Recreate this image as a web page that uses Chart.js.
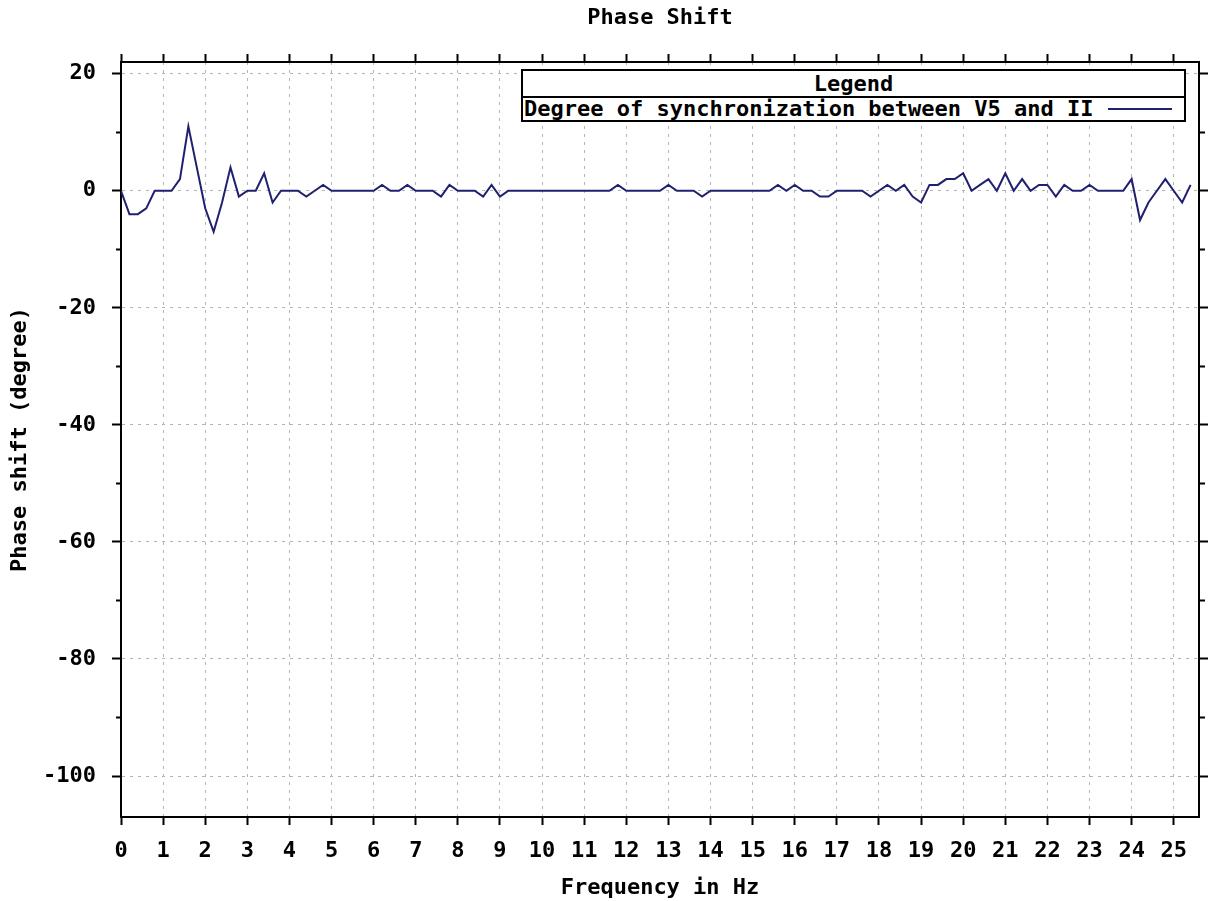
<!DOCTYPE html>
<html>
<head>
<meta charset="utf-8">
<title>Phase Shift</title>
<script src="https://cdn.jsdelivr.net/npm/chart.js@4/dist/chart.umd.min.js"></script>
<style>
  html, body { margin: 0; padding: 0; background: #fff; }
  #wrap { position: relative; width: 1210px; height: 901px; }
  #legend {
    position: absolute; left: 521px; top: 69px; width: 665px; height: 53px;
    box-sizing: border-box; border: 2px solid #000; background: #fff;
    font: bold 22px "DejaVu Sans Mono", monospace; color: #000;
  }
  #legend .head { height: 25px; line-height: 25px; text-align: center; border-bottom: 2px solid #000; }
  #legend .row { position: relative; height: 22px; line-height: 22px; padding-left: 1px; white-space: nowrap; }
  #legend .swatch { position: absolute; right: 12px; top: 10px; width: 64px; border-top: 2px solid #202070; }
</style>
</head>
<body>
<div id="wrap">
  <canvas id="phaseChart" width="1210" height="901"></canvas>
  <div id="legend">
    <div class="head">Legend</div>
    <div class="row">Degree of synchronization between V5 and II<span class="swatch"></span></div>
  </div>
</div>
<script>
// frequency (Hz) and phase shift (degree)
const freq = [
  0, 0.2, 0.4, 0.6, 0.8, 1, 1.2, 1.4, 1.6, 1.8,
  2, 2.2, 2.4, 2.6, 2.8, 3, 3.2, 3.4, 3.6, 3.8,
  4, 4.2, 4.4, 4.6, 4.8, 5, 5.2, 5.4, 5.6, 5.8,
  6, 6.2, 6.4, 6.6, 6.8, 7, 7.2, 7.4, 7.6, 7.8,
  8, 8.2, 8.4, 8.6, 8.8, 9, 9.2, 9.4, 9.6, 9.8,
  10, 10.2, 10.4, 10.6, 10.8, 11, 11.2, 11.4, 11.6, 11.8,
  12, 12.2, 12.4, 12.6, 12.8, 13, 13.2, 13.4, 13.6, 13.8,
  14, 14.2, 14.4, 14.6, 14.8, 15, 15.2, 15.4, 15.6, 15.8,
  16, 16.2, 16.4, 16.6, 16.8, 17, 17.2, 17.4, 17.6, 17.8,
  18, 18.2, 18.4, 18.6, 18.8, 19, 19.2, 19.4, 19.6, 19.8,
  20, 20.2, 20.4, 20.6, 20.8, 21, 21.2, 21.4, 21.6, 21.8,
  22, 22.2, 22.4, 22.6, 22.8, 23, 23.2, 23.4, 23.6, 23.8,
  24, 24.2, 24.4, 24.6, 24.8, 25, 25.2, 25.4
];
const phase = [
  0, -4, -4, -3, 0, 0, 0, 2, 11, 4,
  -3, -7, -2, 4, -1, 0, 0, 3, -2, 0,
  0, 0, -1, 0, 1, 0, 0, 0, 0, 0,
  0, 1, 0, 0, 1, 0, 0, 0, -1, 1,
  0, 0, 0, -1, 1, -1, 0, 0, 0, 0,
  0, 0, 0, 0, 0, 0, 0, 0, 0, 1,
  0, 0, 0, 0, 0, 1, 0, 0, 0, -1,
  0, 0, 0, 0, 0, 0, 0, 0, 1, 0,
  1, 0, 0, -1, -1, 0, 0, 0, 0, -1,
  0, 1, 0, 1, -1, -2, 1, 1, 2, 2,
  3, 0, 1, 2, 0, 3, 0, 2, 0, 1,
  1, -1, 1, 0, 0, 1, 0, 0, 0, 0,
  2, -5, -2, 0, 2, 0, -2, 1
];
const xRange = [0, 25.6];
const yRange = [-107, 22];
const seriesName = "Degree of synchronization between V5 and II";

const gridGray = '#b4b4b4';
const isMajorY = (c) => c.tick && c.tick.value % 20 === 0;

Chart.defaults.font.family = "'DejaVu Sans Mono', monospace";
Chart.defaults.font.size = 22;
Chart.defaults.font.weight = 'bold';
Chart.defaults.color = '#000';

const ctx = document.getElementById("phaseChart").getContext("2d");

new Chart(ctx, {
    type: 'line',
    data: {
        datasets: [{
            label: seriesName,
            data: freq.map((f, i) => ({ x: f, y: phase[i] })),
            borderColor: '#202070',
            borderWidth: 2,
            pointRadius: 0,
            tension: 0,
            fill: false,
            xAxisID: 'x',
            yAxisID: 'y'
        }]
    },
    options: {
        responsive: false,
        animation: false,
        devicePixelRatio: 1,
        layout: { padding: 0 },
        plugins: {
            legend: { display: false },
            tooltip: { enabled: false },
            title: {
                display: true,
                text: 'Phase Shift',
                fullSize: false,
                padding: { top: 5, bottom: 5 },
                font: { size: 22, weight: 'bold' }
            }
        },
        scales: {
            x: {
                type: 'linear',
                position: 'bottom',
                min: xRange[0],
                max: xRange[1],
                afterFit: (s) => { s.height = 84; },
                ticks: { stepSize: 1, includeBounds: false, autoSkip: false, maxRotation: 0, padding: 13 },
                grid: { color: gridGray, lineWidth: 1, tickLength: 8, tickColor: '#000', tickWidth: 2, tickBorderDash: [] },
                border: { display: true, color: '#000', width: 2, dash: [3, 5] },
                title: { display: true, text: 'Frequency in Hz', padding: { top: 0, bottom: 0 } }
            },
            x2: {
                type: 'linear',
                position: 'top',
                min: xRange[0],
                max: xRange[1],
                afterFit: (s) => { s.height = 62 - (5 + 22 * 1.2 + 5); },
                ticks: { display: false, stepSize: 1, includeBounds: false, autoSkip: false },
                grid: { drawOnChartArea: false, tickLength: 8, tickColor: '#000', tickWidth: 2, tickBorderDash: [] },
                border: { display: true, color: '#000', width: 2 }
            },
            y: {
                type: 'linear',
                position: 'left',
                min: yRange[0],
                max: yRange[1],
                afterFit: (s) => { s.width = 121; },
                ticks: {
                    stepSize: 10,
                    includeBounds: false,
                    autoSkip: false,
                    padding: 16,
                    callback: (v) => (v % 20 === 0 ? v : '')
                },
                grid: {
                    color: (c) => (isMajorY(c) ? gridGray : 'rgba(0,0,0,0)'),
                    lineWidth: 1,
                    tickLength: 9,
                    tickColor: '#000',
                    tickWidth: 2,
                    tickBorderDash: (c) => (isMajorY(c) ? [] : [0, 4, 5, 20])
                },
                border: { display: true, color: '#000', width: 2, dash: [3, 5] },
                title: { display: true, text: 'Phase shift (degree)', padding: { top: 7, bottom: 0 } }
            },
            y2: {
                type: 'linear',
                position: 'right',
                min: yRange[0],
                max: yRange[1],
                afterFit: (s) => { s.width = 11; },
                ticks: { display: false, stepSize: 10, includeBounds: false, autoSkip: false },
                grid: {
                    drawOnChartArea: false,
                    tickLength: 9,
                    tickColor: '#000',
                    tickWidth: 2,
                    tickBorderDash: (c) => (isMajorY(c) ? [] : [5, 20])
                },
                border: { display: true, color: '#000', width: 2 }
            }
        }
    }
});
</script>
</body>
</html>
